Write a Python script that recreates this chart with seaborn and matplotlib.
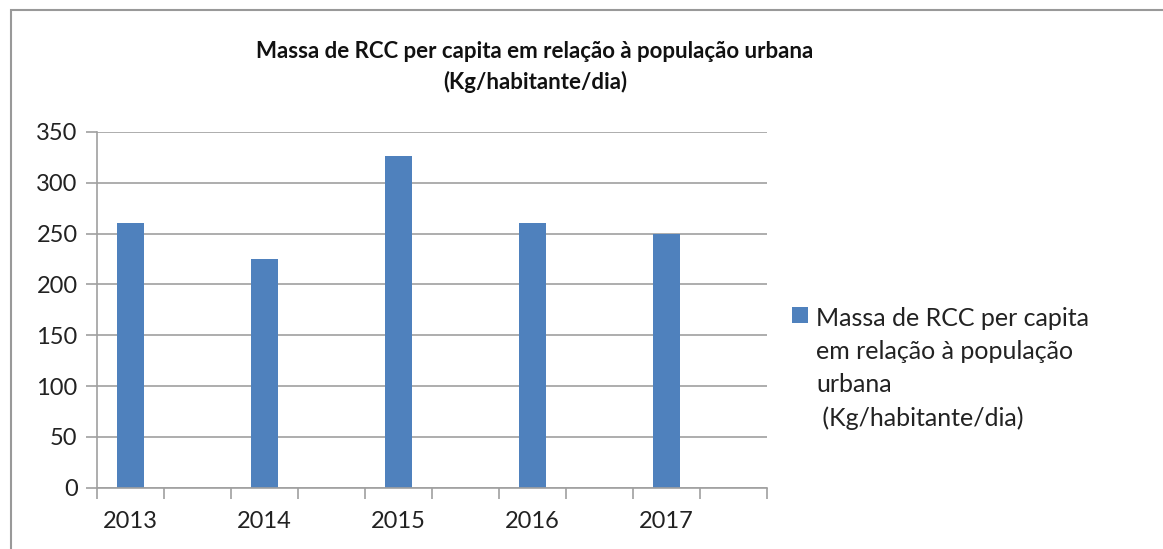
import matplotlib
matplotlib.use("Agg")
import matplotlib.pyplot as plt
from matplotlib.patches import Rectangle
from matplotlib.ticker import FixedLocator, MultipleLocator
import seaborn as sns
import pandas as pd

years = [2013, 2014, 2015, 2016, 2017]
values = [260, 225, 326, 260, 250]
year_labels = ["2013", "2014", "2015", "2016", "2017"]
y_ticks = [0, 50, 100, 150, 200, 250, 300, 350]
title = "Massa de RCC per capita em relação à população urbana\n(Kg/habitante/dia)"
series_label = "Massa de RCC per capita\nem relação à população\nurbana\n (Kg/habitante/dia)"

sns.set_theme(style="white")
plt.rcParams["font.family"] = ["Lato", "DejaVu Sans"]

W, H = 1163, 549
fig = plt.figure(figsize=(W / 100, H / 100), dpi=100)
ax = fig.add_axes([97 / W, 1 - 487.7 / H, (767 - 97) / W, (487.7 - 132) / H])

df = pd.DataFrame({"year": years, "value": values})
sns.barplot(data=df, x="year", y="value", native_scale=True, width=0.2,
            color="#4F81BD", saturation=1, ax=ax, label=series_label,
            edgecolor="none")

grid_c = "#A0A0A0"
ax.set_xlim(years[0] - 0.25, years[-1] + 0.75)
ax.set_ylim(0, 350)
ax.yaxis.set_major_locator(FixedLocator(y_ticks))
ax.set_yticklabels([str(v) for v in y_ticks])
ax.xaxis.set_major_locator(FixedLocator(years))
ax.set_xticklabels(year_labels)
ax.xaxis.set_minor_locator(MultipleLocator(0.5, offset=0.25))
ax.grid(axis="y", color=grid_c, linewidth=1.2)
ax.set_axisbelow(True)
for s in ["top", "right"]:
    ax.spines[s].set_visible(False)
for s in ["left", "bottom"]:
    ax.spines[s].set_color(grid_c)
    ax.spines[s].set_linewidth(1.2)
ax.tick_params(axis="y", which="major", length=8, width=1.2, color=grid_c,
               labelsize=17, labelcolor="#222222", pad=6, left=True)
ax.tick_params(axis="x", which="major", length=0, labelsize=17,
               labelcolor="#222222", pad=17)
ax.tick_params(axis="x", which="minor", length=8, width=1.2, color=grid_c,
               bottom=True)
ax.set_xlabel("")
ax.set_ylabel("")

fig.text(535 / W, 1 - 41 / H, title, ha="center", va="top",
         fontsize=16, fontweight="bold", color="#111111", linespacing=1.5)

leg = ax.legend(loc="upper left", bbox_to_anchor=(774 / W, 1 - 289 / H),
                bbox_transform=fig.transFigure, frameon=False, fontsize=18,
                handlelength=0.65, handleheight=0.65, handletextpad=0.35,
                labelspacing=0, borderpad=0.2)
for t in leg.get_texts():
    t.set_color("#222222")
    t.set_linespacing(1.54)
for col in leg._legend_handle_box.get_children():
    for hp in col.get_children():
        hp.align = "top"

fig.patches.append(Rectangle((10.5 / W, -0.1), 1.2, 1.1 - 10.5 / H,
                             transform=fig.transFigure, fill=False,
                             edgecolor="#999999", linewidth=1.5))
fig.savefig("out.png", dpi=100)
